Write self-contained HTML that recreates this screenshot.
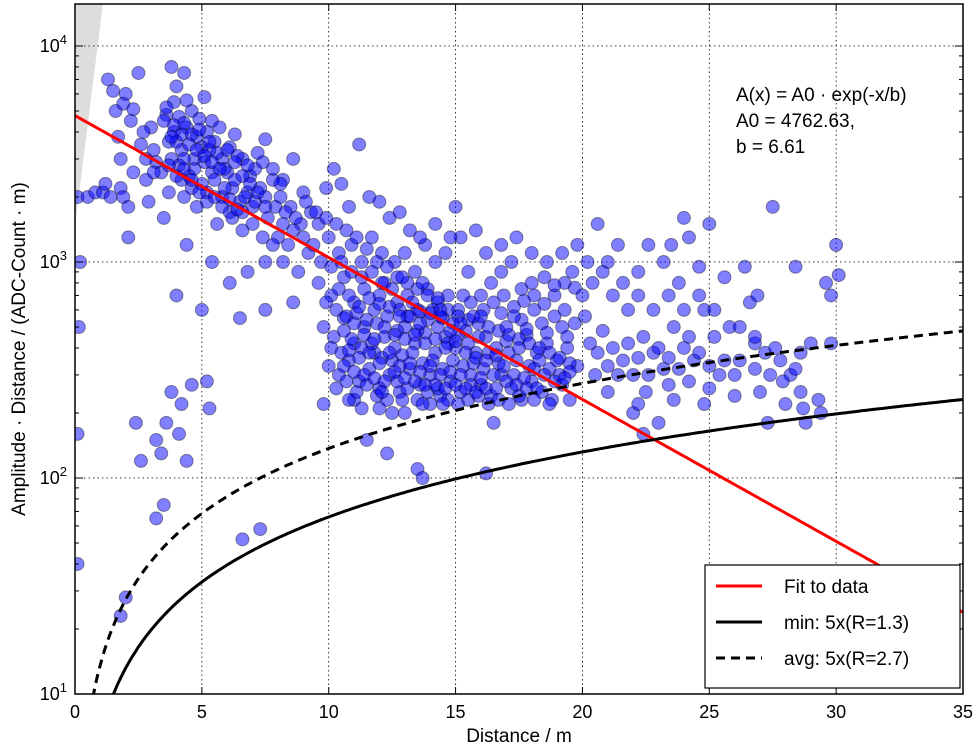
<!DOCTYPE html>
<html><head><meta charset="utf-8"><style>
body{margin:0;background:#fff;}
svg{display:block;font-family:"Liberation Sans",sans-serif;}
</style></head><body>
<svg id="chart" width="980" height="749"></svg>
<script>
const xTicks=[0,5,10,15,20,25,30,35];
const yTickExps=[1,2,3,4];
const fitA0=4762.63, fitB=6.61;
const minFactor=6.6, avgFactor=13.7;
const pointsStr="0.1,2000;0.2,1000;0.15,500;0.1,160;0.1,40;0.5,2000;0.8,2100;1.1,2100;1.4,2000;1.8,2200;1.9,2000;2.1,1800;1.3,7000;1.6,5000;1.7,3800;2,6000;2.2,4500;2.5,7500;1.8,3000;2.6,3500;2.3,2600;3,4200;3.2,2900;2.8,2400;2.1,1300;3.5,1600;2.4,180;2.6,120;3.2,150;3.4,130;2,28;1.8,23;3.8,8000;4,6500;4.3,7500;4.6,5000;3.9,4000;4.2,3300;4.7,3000;5.1,5800;5.4,4500;3.7,3600;4.1,2800;4.5,2500;5,3400;5.5,3600;5.8,3000;6,2600;6.3,3900;6.6,3000;6.9,2500;7.3,2200;7.5,3700;4.3,2000;4.8,1800;5.2,2100;5.6,1500;6.1,1700;6.6,1400;7,1800;7.6,1600;8,1300;8.4,1200;4.4,1200;5.4,1000;6.1,800;6.8,900;7.5,1000;8.2,1000;8.8,900;9.2,1100;4,700;5,600;6.5,550;7.5,600;8.6,650;3.8,250;4.2,220;4.6,270;5.2,280;5.3,210;3.6,180;4.1,160;4.4,120;3.2,65;3.5,75;6.6,52;7.3,58;8.2,2400;8.6,3000;9,2100;9.3,1700;9.6,1500;9.9,2200;10.2,2700;10.5,2300;10.8,1800;11.2,3500;11.6,2000;12,1900;12.4,1600;12.8,1700;13.2,1400;10,1300;10.4,1100;10.9,1200;11.3,1000;11.7,1300;12.1,1100;12.6,1000;13,1100;13.4,900;13.8,1200;14.2,1000;14.6,1100;15,1800;15.2,1300;15.5,900;9.6,800;10.1,700;10.6,850;11,650;11.4,750;11.8,600;12.2,800;12.7,650;13.1,700;13.5,600;13.9,750;14.3,650;14.7,700;15.1,600;15.6,650;16,700;16.4,800;16.8,900;17.2,1000;17.6,750;18,800;18.5,850;18.9,700;19.3,800;19.6,900;20,700;9.8,500;10.2,450;10.6,550;11,420;11.4,500;11.8,380;12.2,450;12.6,400;13,500;13.4,420;13.8,470;14.2,380;14.6,450;15,400;15.4,480;15.8,380;16.2,450;16.6,400;17,430;17.4,350;17.8,460;18.2,380;18.6,420;19,350;19.4,400;19.8,330;10,330;10.4,300;10.8,350;11.2,280;11.6,320;12,260;12.4,300;12.8,250;13.2,320;13.6,270;14,300;14.4,240;14.8,280;15.2,250;15.6,300;16,270;16.4,240;16.8,300;17.2,260;17.6,230;18,280;18.4,250;18.8,230;19.2,270;9.8,220;11,230;12,210;13,200;14,220;11.5,150;12.3,130;13.5,110;13.7,100;16.2,105;16.5,180;19.5,230;20.5,300;20.8,480;21.2,400;21.6,350;22,300;22.4,450;22.8,380;23.2,320;23.6,500;24,400;24.4,350;24.8,600;25.2,450;21,1000;21.6,800;22.2,900;22.6,1200;23.2,1000;23.8,800;24.2,1300;24.6,950;25,1500;25.6,850;20.6,1500;21.4,1200;22,200;22.5,250;23,180;23.6,230;24.2,280;25.6,350;26,300;26.4,950;26.6,650;26.8,420;27.2,380;27.5,1800;27.8,350;28.2,300;28.6,250;29,420;29.3,230;29.6,800;29.8,700;30,1200;30.1,870;28.8,180;27.3,180;26.9,700;28.4,950;29.4,200;24.8,220;24,1600;23.5,1200;22.4,160";
const morePointsStr="1.5,6200;1.9,5400;2.3,5100;2.7,4000;3.1,3300;3.4,2600;3.7,2100;2.9,1900;1.2,2300;3.9,5500;4.1,4700;4.4,4200;4.8,3800;5.2,4000;5.6,3200;5.9,2700;6.2,2200;6.5,1900;6.8,2100;7.1,2700;7.4,2900;7.8,2400;8.1,2000;8.5,1800;8.9,1500;3.8,3000;4.2,2400;4.6,2200;5,2300;5.4,2600;5.8,2000;6.2,1600;6.6,1700;7,1500;7.4,1300;7.8,1200;8.2,1500;8.6,1400;9,1300;9.4,1200;4.4,5600;4.9,4600;5.3,3300;5.7,4200;6.1,3400;6.4,3100;6.8,2800;7.2,3200;3.6,4800;4.0,3600;4.3,3000;4.7,2700;5.1,2900;5.5,2400;5.9,2200;6.3,2400;6.7,2000;7.1,1900;7.5,2000;7.9,1800;8.3,1700;8.7,1600;9.1,1900;9.5,1700;9.9,1600;10.3,1500;10.7,1400;11.1,1300;11.5,1150;11.9,1000;12.3,950;12.7,850;13.1,800;13.5,750;13.9,700;14.3,680;14.7,600;15.1,560;15.5,540;15.9,520;16.3,500;16.7,480;17.1,460;17.5,440;17.9,420;18.3,400;18.7,380;19.1,360;19.5,340;9.7,1000;10.1,950;10.5,1000;10.9,900;11.3,850;11.7,900;12.1,800;12.5,750;12.9,850;13.3,650;13.7,800;14.1,600;14.5,550;14.9,520;15.3,700;15.7,560;16.1,600;16.5,650;16.9,700;17.3,620;17.7,660;18.1,600;18.5,640;18.9,560;19.3,600;19.7,520;20.1,560;9.9,650;10.3,600;10.7,560;11.1,580;11.5,540;11.9,520;12.3,560;12.7,480;13.1,560;13.5,480;13.9,540;14.3,500;14.7,420;15.1,460;15.5,420;15.9,450;16.3,380;16.7,340;17.1,380;17.5,400;17.9,330;18.3,350;18.7,320;19.1,300;19.5,310;10.1,400;10.5,380;10.9,440;11.3,400;11.7,420;12.1,360;12.5,350;12.9,370;13.3,380;13.7,340;14.1,350;14.5,320;14.9,350;15.3,330;15.7,340;16.1,320;16.5,300;16.9,330;17.3,300;17.7,290;18.1,320;18.5,300;18.9,280;19.3,290;10.3,260;10.7,280;11.1,250;11.5,270;11.9,240;12.3,230;12.7,280;13.1,260;13.5,230;13.9,250;14.3,260;14.7,230;15.1,220;15.5,230;15.9,240;16.3,220;16.7,230;17.1,220;17.5,240;18.1,230;18.7,220;20.3,420;20.6,380;21,330;21.4,300;21.8,420;22.2,360;22.6,300;23,400;23.4,360;23.8,320;24.2,450;24.6,380;25,330;25.4,300;26.2,350;26.8,320;27.4,300;27.9,280;28.4,320;20.4,800;20.8,900;21.2,700;21.8,600;22.2,700;22.8,600;23.4,700;24,600;24.6,700;25.2,600;25.8,500;26.2,500;26.8,450;27.6,400;28.6,380;29.8,420;21,250;22.2,220;23.4,270;25,260;26,240;27,250;28,220;28.7,210;20.2,1000;19.8,1200;19.2,1100;18.6,1000;18,1100;17.4,1300;16.8,1200;16.2,1100;15.8,1400;14.8,1300;14.2,1500;13.6,1300";
const densePointsStr="3.6,5200;3.9,4300;4.2,3900;4.5,3500;4.8,3300;5.1,3100;5.4,2900;5.7,2700;6,3300;6.3,2900;6.6,2500;6.9,2300;7.2,2100;7.5,1800;7.8,2700;8.1,2300;3.7,2800;4,2500;4.3,2700;4.6,2400;4.9,2100;5.2,1900;5.5,2000;5.8,1800;6.1,1950;6.4,1750;3.5,4500;3.8,3800;4.3,4400;4.6,3900;4.9,4100;5.3,3600;2.8,3000;3.1,2600;10.4,750;10.8,700;11.2,620;11.6,680;12,700;12.4,620;12.8,600;13.2,560;13.6,520;14,580;14.4,560;14.8,480;10.6,480;11,520;11.4,460;11.8,440;12.2,500;12.6,460;13,440;13.4,460;13.8,420;14.2,440;14.6,400;15,430;15.4,380;15.8,360;16.2,350;16.6,370;10.8,390;11.2,360;11.6,380;12,340;12.4,380;12.8,330;13.2,340;13.6,310;14,330;14.4,300;14.8,310;15.2,300;15.6,270;16,290;10.6,330;11,310;11.4,300;11.8,290;12.2,280;12.6,310;13,290;13.4,280;13.8,270;14.2,270;14.6,260;15,270;15.4,260;15.8,250;16.2,260;16.6,260;17,280;17.4,270;17.8,260;18.2,260;12.1,250;12.9,230;13.7,220;14.5,220;11.3,210;12.5,200;10.8,230;12,640;12.8,560;13.6,590;14.4,600;15.2,520;16,560;16.8,580;17.6,540;18.4,520;19.2,500;17,500;17.8,490;18.6,470;19.4,450;17.3,560;18.1,700;18.9,780;19.7,760";
const points=pointsStr.split(';').concat(morePointsStr.split(';'),densePointsStr.split(';')).map(s=>s.split(',').map(Number));

const svg=document.getElementById('chart');
const NS='http://www.w3.org/2000/svg';
const L=75,R=963,T=4,B=694;
const xs=x=>L+(x-0)/35*(R-L);
const ys=v=>B-(Math.log10(v)-1)*216;
function mk(tag,attrs,parent){const e=document.createElementNS(NS,tag);for(const k in attrs)e.setAttribute(k,attrs[k]);(parent||svg).appendChild(e);return e;}

const clip=mk('clipPath',{id:'pc'});mk('rect',{x:L,y:T,width:R-L,height:B-T},clip);
const grey=mk('polygon',{points:`${L},225 ${L},${T} 103,${T}`,fill:'#dddddd'});


xTicks.forEach(t=>{if(t>0&&t<35){const g=mk('line',{x1:xs(t),x2:xs(t),y1:T,y2:B,stroke:'#000','stroke-width':0.8,'stroke-dasharray':'1.5,3'});

}});
yTickExps.forEach(e=>{if(e>1){const g=mk('line',{x1:L,x2:R,y1:ys(Math.pow(10,e)),y2:ys(Math.pow(10,e)),stroke:'#000','stroke-width':0.8,'stroke-dasharray':'1.5,3'});

}});
const pg=mk('g',{'clip-path':'url(#pc)'});
points.forEach(p=>{const c=mk('circle',{cx:xs(p[0]),cy:ys(p[1]),r:6.5,fill:'rgba(0,0,255,0.5)',stroke:'rgba(0,0,0,0.4)','stroke-width':1},pg);

});
function curve(f,x0,attrs,name){let d='';for(let x=x0;x<=35.001;x+=0.1){d+=(d?'L':'M')+xs(x).toFixed(1)+','+ys(f(x)).toFixed(1);}const p=mk('path',Object.assign({d,fill:'none'},attrs),pg);

}
curve(x=>fitA0*Math.exp(-x/fitB),0,{stroke:'#f00','stroke-width':3},'fit-line');
curve(x=>minFactor*x,1.4,{stroke:'#000','stroke-width':3},'min-curve');
curve(x=>avgFactor*x,0.6,{stroke:'#000','stroke-width':3,'stroke-dasharray':'9,6'},'avg-curve');
const fr=mk('rect',{x:L,y:T,width:R-L,height:B-T,fill:'none',stroke:'#000','stroke-width':1.5});


xTicks.forEach(t=>{mk('line',{x1:xs(t),x2:xs(t),y1:B,y2:B-7,stroke:'#000'});mk('line',{x1:xs(t),x2:xs(t),y1:T,y2:T+7,stroke:'#000'});
const tx=mk('text',{x:xs(t),y:B+24,'text-anchor':'middle','font-size':18});tx.textContent=t;

});
yTickExps.forEach(e=>{const y=ys(Math.pow(10,e));mk('line',{x1:L,x2:L+8,y1:y,y2:y,stroke:'#000'});mk('line',{x1:R,x2:R-8,y1:y,y2:y,stroke:'#000'});
for(let m=2;m<10;m++){const yy=ys(m*Math.pow(10,e));if(yy>T){mk('line',{x1:L,x2:L+4,y1:yy,y2:yy,stroke:'#000'});mk('line',{x1:R,x2:R-4,y1:yy,y2:yy,stroke:'#000'});}}
const tx=mk('text',{x:L-8,y:y+6,'text-anchor':'end','font-size':18});tx.innerHTML='10<tspan dy="-8" font-size="13">'+e+'</tspan>';

});
const xt=mk('text',{x:(L+R)/2,y:742,'text-anchor':'middle','font-size':19});xt.textContent='Distance / m';


const yt=mk('text',{x:0,y:0,'text-anchor':'middle','font-size':19,transform:'translate(25,349) rotate(-90)'});yt.textContent='Amplitude · Distance / (ADC-Count · m)';


['A(x) = A0 · exp(-x/b)','A0 = 4762.63,','b = 6.61'].forEach((s,i)=>{const t=mk('text',{x:736,y:101+i*26,'font-size':19});t.textContent=s;

});
const lg=mk('g',{});


mk('rect',{x:705,y:565,width:255,height:123,fill:'#fff',stroke:'#000','stroke-width':1.2},lg);
[['Fit to data','#f00',null],['min: 5x(R=1.3)','#000',null],['avg: 5x(R=2.7)','#000','9,6']].forEach((e,i)=>{const y=586+i*36;
const a={x1:716,x2:762,y1:y,y2:y,stroke:e[1],'stroke-width':3};if(e[2])a['stroke-dasharray']=e[2];mk('line',a,lg);
const t=mk('text',{x:784,y:y+7,'font-size':19},lg);t.textContent=e[0];

});
</script>
</body></html>
